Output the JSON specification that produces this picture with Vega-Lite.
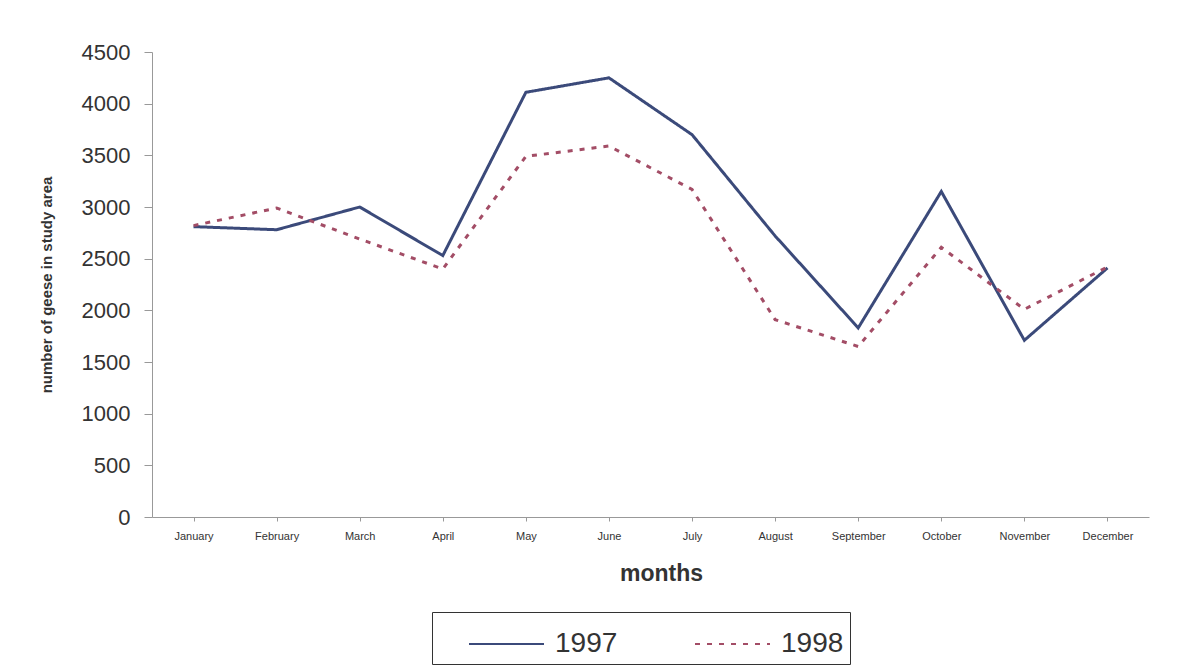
{
  "$schema": "https://vega.github.io/schema/vega-lite/v6.json",
  "autosize": "none",
  "width": 997,
  "height": 465,
  "padding": {"left": 152, "top": 52, "right": 37, "bottom": 150},
  "background": "white",
  "config": {
    "view": {"stroke": null},
    "font": "Liberation Sans"
  },
  "data": {
    "values": [
      {"month": "January", "year": "1997", "geese": 2810},
      {"month": "February", "year": "1997", "geese": 2780},
      {"month": "March", "year": "1997", "geese": 3000},
      {"month": "April", "year": "1997", "geese": 2530},
      {"month": "May", "year": "1997", "geese": 4110},
      {"month": "June", "year": "1997", "geese": 4250},
      {"month": "July", "year": "1997", "geese": 3700},
      {"month": "August", "year": "1997", "geese": 2720},
      {"month": "September", "year": "1997", "geese": 1830},
      {"month": "October", "year": "1997", "geese": 3150},
      {"month": "November", "year": "1997", "geese": 1710},
      {"month": "December", "year": "1997", "geese": 2410},
      {"month": "January", "year": "1998", "geese": 2820},
      {"month": "February", "year": "1998", "geese": 2990},
      {"month": "March", "year": "1998", "geese": 2690},
      {"month": "April", "year": "1998", "geese": 2400},
      {"month": "May", "year": "1998", "geese": 3490},
      {"month": "June", "year": "1998", "geese": 3590},
      {"month": "July", "year": "1998", "geese": 3170},
      {"month": "August", "year": "1998", "geese": 1910},
      {"month": "September", "year": "1998", "geese": 1650},
      {"month": "October", "year": "1998", "geese": 2610},
      {"month": "November", "year": "1998", "geese": 2010},
      {"month": "December", "year": "1998", "geese": 2420}
    ]
  },
  "mark": {"type": "line", "strokeWidth": 3},
  "encoding": {
    "x": {
      "field": "month",
      "type": "nominal",
      "sort": null,
      "scale": {"paddingInner": 0, "paddingOuter": 0},
      "axis": {
        "title": "months",
        "titleFont": "Liberation Sans",
        "titleFontSize": 23,
        "titleFontWeight": "bold",
        "titleColor": "#333333",
        "titlePadding": 21,
        "titleX": 509,
        "labelAngle": 0,
        "labelFontSize": 11,
        "labelColor": "#333333",
        "labelPadding": 9,
        "bandPosition": 0,
        "tickSize": 4,
        "tickColor": "#999999",
        "domainColor": "#999999",
        "grid": false
      }
    },
    "y": {
      "field": "geese",
      "type": "quantitative",
      "scale": {"domain": [0, 4500], "nice": false},
      "axis": {
        "title": "number of geese in study area",
        "titleFontSize": 15,
        "titleFontWeight": "bold",
        "titleColor": "#333333",
        "titlePadding": 27,
        "values": [0, 500, 1000, 1500, 2000, 2500, 3000, 3500, 4000, 4500],
        "format": "d",
        "labelFontSize": 22,
        "labelColor": "#333333",
        "labelPadding": 14,
        "tickSize": 8,
        "tickColor": "#999999",
        "domainColor": "#999999",
        "grid": false
      }
    },
    "color": {
      "field": "year",
      "type": "nominal",
      "scale": {"domain": ["1997", "1998"], "range": ["#3B4A7A", "#A34D66"]},
      "legend": {
        "title": null,
        "orient": "none",
        "legendX": 280,
        "legendY": 560,
        "direction": "horizontal",
        "symbolType": "M0.2,0H3.2",
        "symbolSize": 2500,
        "symbolStrokeWidth": 2,
        "labelOffset": 65,
        "labelFontSize": 28,
        "labelColor": "#333333",
        "labelFont": "Liberation Sans",
        "columnPadding": 46,
        "padding": 6,
        "strokeColor": "#333333",
        "labelLimit": 200
      }
    },
    "strokeDash": {
      "field": "year",
      "type": "nominal",
      "scale": {"domain": ["1997", "1998"], "range": [[1, 0], [5, 7]]},
      "legend": null
    }
  }
}
